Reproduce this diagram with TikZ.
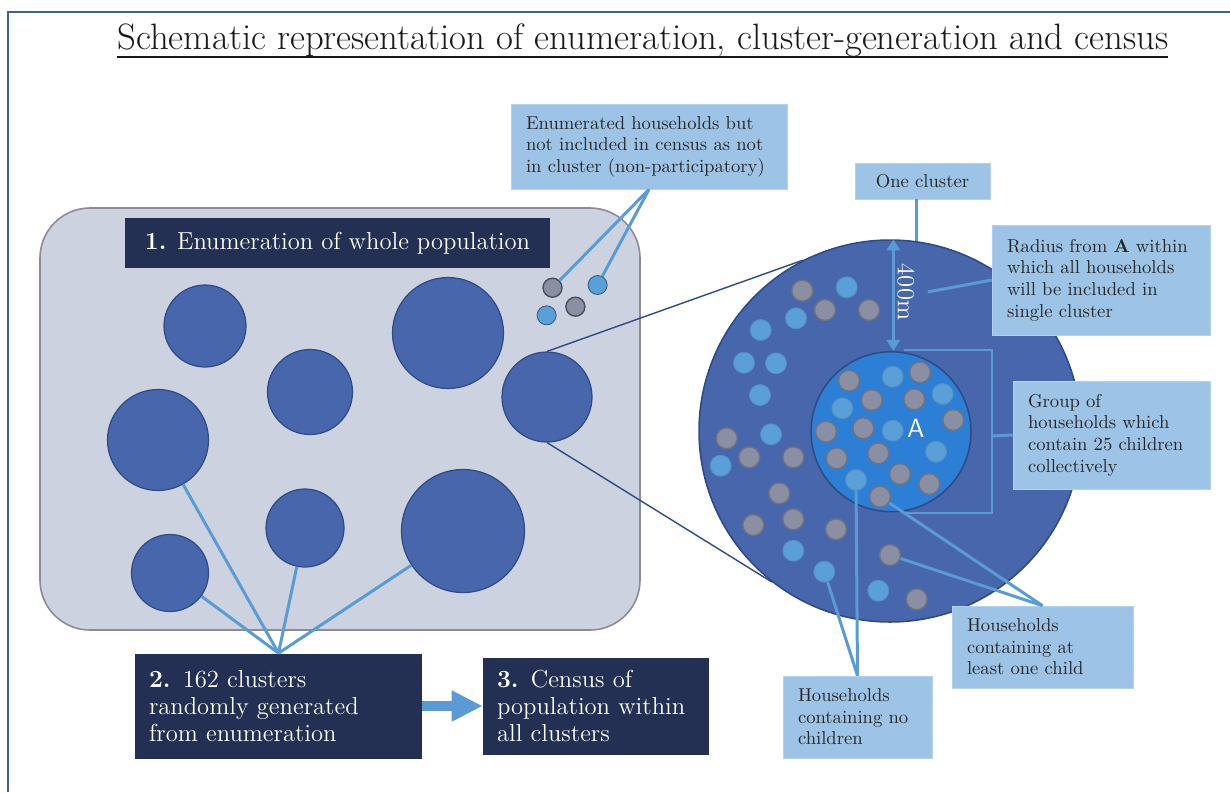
\documentclass[tikz,border=0pt]{standalone}
\usepackage{xcolor}
\usepackage{tikz}
\usetikzlibrary{arrows.meta}

\definecolor{navy}{HTML}{233053}
\definecolor{noteblue}{HTML}{9DC3E6}
\definecolor{linkblue}{HTML}{5B9BD5}
\definecolor{clusterblue}{HTML}{4866AC}
\definecolor{clusteredge}{HTML}{2F4A85}
\definecolor{coreblue}{HTML}{2D7FD6}
\definecolor{hhblue}{HTML}{5B9FD8}
\definecolor{hhgrey}{HTML}{8A8FA3}
\definecolor{popfill}{HTML}{CCD2DF}
\definecolor{popedge}{HTML}{8E8A9A}
\definecolor{framecol}{HTML}{3F5E9E}

\tikzset{
  stepbox/.style={fill=navy, text=white, font=\fontsize{14}{15.5}\selectfont,
    inner xsep=0.28cm, align=left},
  notebox/.style={fill=noteblue, draw=noteblue!75!white, text=black!85,
    font=\fontsize{10.6}{12.3}\selectfont, inner xsep=0.3cm, align=left},
  cluster/.style={circle, fill=clusterblue, draw=clusteredge, line width=0.7pt, inner sep=0pt},
  hhg/.style={circle, fill=hhgrey, draw=hhgrey!80!black, line width=0.8pt,
    minimum size=0.42cm, inner sep=0pt},
  hhb/.style={circle, fill=hhblue, draw=hhblue!90!black, line width=0.5pt,
    minimum size=0.42cm, inner sep=0pt},
  link/.style={linkblue, line width=1.7pt},
  zoomline/.style={clusteredge, line width=0.8pt},
}

\begin{document}
\begin{tikzpicture}[x=0.02cm, y=-0.02cm]

    % Page and frame
    \useasboundingbox (0,0) rectangle (1230,792);
    \fill[white] (0,0) rectangle (1230,792);
    \draw[framecol, line width=1.4pt] (8,792) -- (8,12) -- (1230,12);

    % Title
    \node[font=\fontsize{20.9}{24}\selectfont, text=black!90, anchor=base] (title) at (643,49)
        {Schematic representation of enumeration, cluster-generation and census};
    \draw[black!90, line width=1pt] (117,57) -- (1168,57);

    % Whole population
    \draw[popedge, fill=popfill, line width=0.9pt, rounded corners=1cm] (40,208) rectangle (640,630);

    % Clusters: x / y / diameter
    \foreach \cx/\cy/\d [count=\i] in {205/326/1.64, 310/392/1.70, 448/333/2.22, 547/397/1.80,
                                       158/440/2.02, 305/528/1.56, 463/531/2.46, 170/573/1.54}
        \node[cluster, minimum size=\d cm] (c\i) at (\cx,\cy) {};

    % Households outside any cluster
    \node[hhg, minimum size=0.38cm, draw=hhgrey!55!black] (pg1) at (552.5,287.7) {};
    \node[hhg, minimum size=0.38cm, draw=hhgrey!55!black] (pg2) at (575.4,306.7) {};
    \node[hhb, minimum size=0.38cm, draw=hhblue!60!black] (pb1) at (597.6,285) {};
    \node[hhb, minimum size=0.38cm, draw=hhblue!60!black] (pb2) at (546.6,315.3) {};

    % One cluster, enlarged
    \node[circle, fill=clusterblue, draw=clusteredge, line width=0.9pt, minimum size=7.64cm] (big) at (890,431) {};
    \node[circle, fill=coreblue, draw=clusteredge, line width=0.9pt, minimum size=3.2cm] (inner) at (891,431.7) {};

    % Households in the outer ring
    \foreach \hx/\hy [count=\i] in {802.3/290.7, 825/310, 869/310, 726.7/438.3, 749.3/457.3, 793.3/457.3,
                                    779.3/493.3, 753.3/525, 793.3/519.3, 836/529.3, 890/555, 916.7/599.3}
        \node[hhg] (og\i) at (\hx,\hy) {};
    \foreach \hx/\hy [count=\i] in {846.7/287.3, 796/318.3, 760.7/330, 744/362.7, 776/363.3, 760/395,
                                    771/434.3, 720.7/465.7, 793.3/550.7, 824.3/571.7, 878.3/590.7}
        \node[hhb] (ob\i) at (\hx,\hy) {};

    % Households around A
    \foreach \hx/\hy [count=\i] in {849/380.7, 920/372.3, 871.7/400, 914.3/399.3, 953.3/420, 826/431.7,
                                    863.3/428.3, 836.7/458.3, 878.3/453.3, 900/474, 929.3/484, 880/496.7}
        \node[hhg] (ig\i) at (\hx,\hy) {};
    \foreach \hx/\hy [count=\i] in {892.7/376.7, 942.7/394, 842.3/408.3, 892.7/430.7, 936/451.7, 856/480}
        \node[hhb] (ib\i) at (\hx,\hy) {};

    \node[text=white, font=\sffamily\fontsize{15}{18}\selectfont] (centre) at (916,428) {A};

    % Radius arrow
    \draw[link, {Triangle[length=0.22cm,width=0.26cm]}-{Triangle[length=0.22cm,width=0.26cm]}]
        (big.89) -- (big.89 |- inner.north);
    \node[text=white, rotate=-90, font=\fontsize{14}{16}\selectfont] (dist) at (906,292) {400m};

    % Bracket round the group
    \draw[link, line width=1.4pt] (904,350) -- (992,350) -- (992,513) -- (904,513);
    \coordinate (brk) at (992,436);

    % Steps
    \node[stepbox, align=center, minimum width=8.5cm, minimum height=1.0cm] (enum) at (337.5,243)
        {\textbf{1.} Enumeration of whole population};
    \node[stepbox, text width=5.18cm, minimum height=2.1cm] (gen) at (278.5,706)
        {\textbf{2.} 162 clusters\\ randomly generated\\ from enumeration};
    \node[stepbox, text width=3.96cm, minimum height=1.94cm] (census) at (596,706)
        {\textbf{3.} Census of\\ population within\\ all clusters};

    % Notes
    \node[notebox, text width=4.92cm, minimum height=1.70cm] (outside) at (649,146.5)
        {Enumerated households but\\ not included in census as not\\ in cluster (non-participatory)};
    \node[notebox, align=center, minimum width=2.7cm, minimum height=0.72cm] (one) at (922.5,181) {One cluster};
    \node[notebox, text width=3.76cm, minimum height=2.2cm] (radius) at (1101,280)
        {Radius from \textbf{A} within\\ which all households\\ will be included in\\ single cluster};
    \node[notebox, text width=3.34cm, minimum height=2.16cm] (group) at (1111.5,435)
        {Group of\\ households which\\ contain 25 children\\ collectively};
    \node[notebox, text width=3.02cm, minimum height=1.64cm] (child) at (1042.5,647)
        {Households\\ containing at\\ least one child};
    \node[notebox, text width=2.38cm, minimum height=1.64cm] (nochild) at (857.5,717)
        {Households\\ containing no\\ children};

    % Connectors
    \draw[link] (outside.south) -- (pg1);
    \draw[link] (outside.south) -- (pb1);
    \foreach \c in {8,5,6,7}
        \draw[link] (gen.north) -- (c\c);
    \draw[zoomline] (c4.north) -- (big.117);
    \draw[zoomline] (c4.south) -- (big.232);
    \draw[link] (big.82) -- (big.82 |- one.south);
    \draw[link] ([xshift=4pt]dist.north) -- (radius.west);
    \draw[link] (brk) -- (group.west);
    \draw[link] (child.north) -- (og11);
    \draw[link] (child.north) -- (ig12);
    \draw[link] (nochild.north) -- (ob10);
    \draw[link] (nochild.north) -- (ib6);
    \draw[linkblue, line width=0.2cm, -{Triangle[length=0.62cm,width=0.58cm]}] (gen.east) -- (census.west);

\end{tikzpicture}
\end{document}
